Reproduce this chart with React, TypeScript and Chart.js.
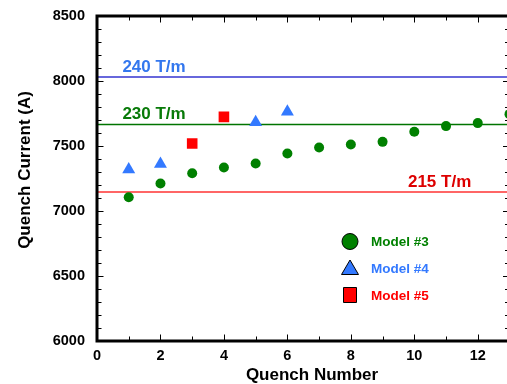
import React, { useEffect, useRef } from "react";
import { Chart, registerables } from "chart.js";

Chart.register(...registerables);

// ---- data ----
const quenchNumbers = [1, 2, 3, 4, 5, 6, 7, 8, 9, 10, 11, 12, 13];
const model3Current = [7106, 7211, 7290, 7334, 7365, 7442, 7488, 7511, 7532, 7609, 7653, 7676, 7745];
const model4Quench = [1, 2, 5, 6];
const model4Current = [7319, 7362, 7683, 7763];
const model5Quench = [3, 4];
const model5Current = [7519, 7724];
const thresholdCurrents = [8030, 7666, 7146];
const thresholdLabels = ["240 T/m", "230 T/m", "215 T/m"];
const seriesNames = ["Model #3", "Model #4", "Model #5"];
const xTickLabels = [0, 2, 4, 6, 8, 10, 12];
const yTickLabels = [6000, 6500, 7000, 7500, 8000, 8500];
const xTitle = "Quench Number";
const yTitle = "Quench Current (A)";

const FONT = "'Liberation Sans', Arial, Helvetica, sans-serif";
const GREEN = "#008000";
const BLUE = "#3379ff";
const RED = "#ff0000";
const lineColors = ["#3535d0", "#007400", "#ff3333"];
const labelColors = ["#3377ee", "#087a08", "#dd0000"];

const decorPlugin = {
  id: "decor",
  afterDatasetsDraw(chart: any) {
    const { ctx, chartArea, scales } = chart;
    const xs = scales.x;
    const ys = scales.y;
    const { left, right, top, bottom } = chartArea;
    ctx.save();
    // threshold labels
    ctx.font = `bold 17px ${FONT}`;
    ctx.textBaseline = "alphabetic";
    ctx.textAlign = "left";
    const labelX = [xs.getPixelForValue(0.8), xs.getPixelForValue(0.8), xs.getPixelForValue(9.8)];
    thresholdCurrents.forEach((v, i) => {
      ctx.fillStyle = labelColors[i];
      ctx.fillText(thresholdLabels[i], labelX[i], ys.getPixelForValue(v) - 5);
    });

    // ticks (inward)
    ctx.strokeStyle = "#000";
    ctx.lineWidth = 1;
    for (let v = 6000; v <= 8500; v += 100) {
      const y = Math.round(ys.getPixelForValue(v)) + 0.5;
      const len = v % 500 === 0 ? 5 : 3;
      ctx.beginPath();
      ctx.moveTo(left, y);
      ctx.lineTo(left + len + 1.5, y);
      ctx.moveTo(right, y);
      ctx.lineTo(right - len - 1.5, y);
      ctx.stroke();
    }
    for (let v = 0; v <= 13; v += 1) {
      const x = Math.round(xs.getPixelForValue(v)) + 0.5;
      const len = v % 2 === 0 ? 5 : 3;
      ctx.beginPath();
      ctx.moveTo(x, bottom);
      ctx.lineTo(x, bottom - len - 1.5);
      ctx.moveTo(x, top);
      ctx.lineTo(x, top + len + 1.5);
      ctx.stroke();
    }
    // frame
    ctx.lineWidth = 3;
    ctx.beginPath();
    ctx.moveTo(right, top);
    ctx.lineTo(left, top);
    ctx.lineTo(left, bottom);
    ctx.lineTo(right, bottom);
    ctx.stroke();

    // axis titles
    ctx.fillStyle = "#000";
    ctx.font = `bold 17px ${FONT}`;
    ctx.textAlign = "center";
    ctx.textBaseline = "middle";
    ctx.fillText(xTitle, 312, 375);
    ctx.save();
    ctx.translate(25, 170);
    ctx.rotate(-Math.PI / 2);
    ctx.fillText(yTitle, 0, 0);
    ctx.restore();

    // legend
    const mx = 350;
    const tx = 371;
    const rows = [241.5, 268.5, 295];
    ctx.lineWidth = 1;
    ctx.strokeStyle = "#000";
    ctx.fillStyle = GREEN;
    ctx.beginPath();
    ctx.arc(mx, rows[0], 8, 0, Math.PI * 2);
    ctx.fill();
    ctx.stroke();
    ctx.fillStyle = BLUE;
    ctx.beginPath();
    ctx.moveTo(mx, rows[1] - 8.5);
    ctx.lineTo(mx + 8.5, rows[1] + 6);
    ctx.lineTo(mx - 8.5, rows[1] + 6);
    ctx.closePath();
    ctx.fill();
    ctx.stroke();
    ctx.fillStyle = RED;
    ctx.beginPath();
    ctx.rect(mx - 6.5, rows[2] - 7.5, 13, 15);
    ctx.fill();
    ctx.stroke();

    ctx.font = `bold 13.5px ${FONT}`;
    ctx.textAlign = "left";
    ctx.textBaseline = "middle";
    const textColors = [GREEN, BLUE, RED];
    seriesNames.forEach((n, i) => {
      ctx.fillStyle = textColors[i];
      ctx.fillText(n, tx, rows[i] + 1);
    });
    ctx.restore();
  },
};

export default function App() {
  const ref = useRef<HTMLCanvasElement>(null);
  useEffect(() => {
    if (!ref.current) return;
    const thresholdSets = thresholdCurrents.map((v, i) => ({
      type: "line" as const,
      data: [
        { x: 0, y: v },
        { x: 13, y: v },
      ],
      borderColor: lineColors[i],
      borderWidth: 1.5,
      pointRadius: 0,
      showLine: true,
      order: 10,
    }));
    const chart = new Chart(ref.current, {
      type: "scatter",
      data: {
        datasets: [
          ...thresholdSets,
          {
            label: seriesNames[0],
            data: quenchNumbers.map((q, i) => ({ x: q, y: model3Current[i] })),
            pointStyle: "circle",
            pointRadius: 5,
            backgroundColor: GREEN,
            borderColor: GREEN,
            borderWidth: 0,
            order: 1,
          },
          {
            label: seriesNames[1],
            data: model4Quench.map((q, i) => ({ x: q, y: model4Current[i] })),
            pointStyle: "triangle",
            pointRadius: 7.5,
            backgroundColor: BLUE,
            borderColor: BLUE,
            borderWidth: 0,
            order: 1,
          },
          {
            label: seriesNames[2],
            data: model5Quench.map((q, i) => ({ x: q, y: model5Current[i] })),
            pointStyle: "rect",
            pointRadius: 7.5,
            backgroundColor: RED,
            borderColor: RED,
            borderWidth: 0,
            order: 1,
          },
        ] as any,
      },
      options: {
        responsive: false,
        animation: false,
        devicePixelRatio: 1,
        layout: { padding: { top: 16, right: 2, left: 0, bottom: 0 } },
        plugins: { legend: { display: false }, tooltip: { enabled: false } },
        scales: {
          x: {
            type: "linear",
            min: 0,
            max: 13,
            grid: { display: false, drawTicks: false },
            border: { display: false },
            afterBuildTicks: (s: any) => {
              s.ticks = xTickLabels.map((v) => ({ value: v }));
            },
            afterFit: (s: any) => {
              s.height = 43;
              s.paddingLeft = 0;
              s.paddingRight = 0;
            },
            ticks: {
              color: "#000",
              padding: 6,
              maxRotation: 0,
              callback: (v: any) => String(v),
              font: { family: FONT, size: 14.5, weight: "bold" },
            },
          },
          y: {
            type: "linear",
            min: 6000,
            max: 8500,
            grid: { display: false, drawTicks: false },
            border: { display: false },
            afterBuildTicks: (s: any) => {
              s.ticks = yTickLabels.map((v) => ({ value: v }));
            },
            afterFit: (s: any) => {
              s.width = 97;
              s.paddingTop = 0;
              s.paddingBottom = 0;
            },
            ticks: {
              color: "#000",
              padding: 12,
              callback: (v: any) => String(v),
              font: { family: FONT, size: 14.5, weight: "bold" },
            },
          },
        },
      },
      plugins: [decorPlugin],
    });
    return () => chart.destroy();
  }, []);
  return (
    <div
      style={{
        position: "absolute",
        left: 0,
        top: 0,
        width: 507,
        height: 384,
        overflow: "hidden",
        background: "#fff",
      }}
    >
      <canvas ref={ref} width={517} height={384} style={{ display: "block" }} />
    </div>
  );
}
